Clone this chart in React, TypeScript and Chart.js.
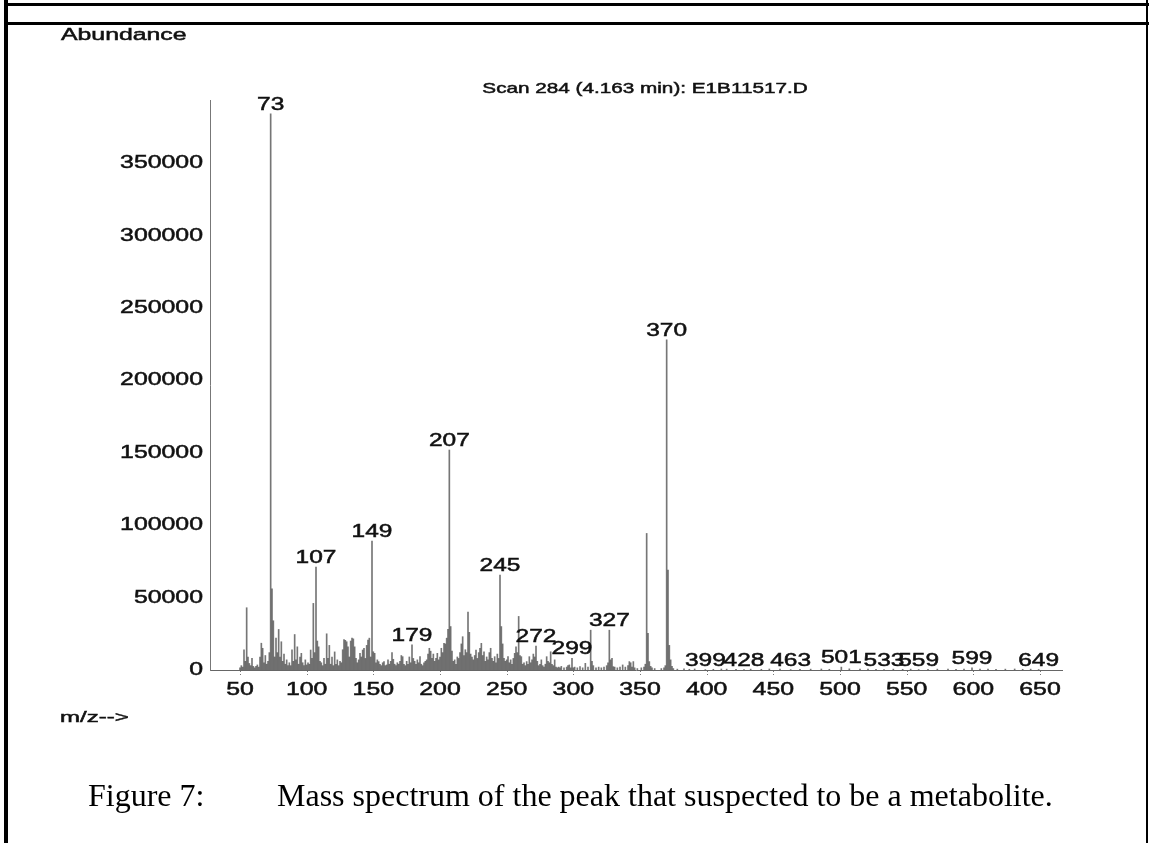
import React, { useEffect, useRef } from "react";
import { Chart, registerables } from "chart.js";

Chart.register(...registerables);

// ---- data ----
const MZ: number[] = [
  50, 51, 52, 53, 54, 55, 56, 57, 58, 59, 60, 61, 62, 63, 64, 65, 66, 67, 68, 69,
  70, 71, 72, 73, 74, 75, 76, 77, 78, 79, 80, 81, 82, 83, 84, 85, 86, 87, 88, 89,
  90, 91, 92, 93, 94, 95, 96, 97, 98, 99, 100, 101, 102, 103, 104, 105, 106, 107, 108, 109,
  110, 111, 112, 113, 114, 115, 116, 117, 118, 119, 120, 121, 122, 123, 124, 125, 126, 127, 128, 129,
  130, 131, 132, 133, 134, 135, 136, 137, 138, 139, 140, 141, 142, 143, 144, 145, 146, 147, 148, 149,
  150, 151, 152, 153, 154, 155, 156, 157, 158, 159, 160, 161, 162, 163, 164, 165, 166, 167, 168, 169,
  170, 171, 172, 173, 174, 175, 176, 177, 178, 179, 180, 181, 182, 183, 184, 185, 186, 187, 188, 189,
  190, 191, 192, 193, 194, 195, 196, 197, 198, 199, 200, 201, 202, 203, 204, 205, 206, 207, 208, 209,
  210, 211, 212, 213, 214, 215, 216, 217, 218, 219, 220, 221, 222, 223, 224, 225, 226, 227, 228, 229,
  230, 231, 232, 233, 234, 235, 236, 237, 238, 239, 240, 241, 242, 243, 244, 245, 246, 247, 248, 249,
  250, 251, 252, 253, 254, 255, 256, 257, 258, 259, 260, 261, 262, 263, 264, 265, 266, 267, 268, 269,
  270, 271, 272, 273, 274, 275, 276, 277, 278, 279, 280, 281, 282, 283, 284, 285, 286, 287, 288, 289,
  290, 291, 293, 295, 296, 297, 298, 299, 300, 301, 303, 305, 307, 309, 311, 313, 314, 315, 317, 319,
  321, 323, 325, 326, 327, 328, 329, 330, 331, 333, 335, 337, 339, 341, 342, 343, 344, 345, 346, 348,
  351, 353, 354, 355, 356, 357, 358, 359, 361, 366, 368, 369, 370, 371, 372, 373, 374, 375, 378, 383,
  387, 391, 399, 405, 411, 415, 422, 428, 433, 441, 447, 455, 463, 470, 478, 486, 492, 501, 507, 515,
  521, 527, 533, 540, 547, 553, 559, 566, 573, 581, 587, 593, 599, 605, 611, 617, 624, 631, 637, 643,
  649,
];

const ABUNDANCE: number[] = [
  1500, 3000, 2000, 14000, 6000, 43000, 9000, 4500, 3000, 8000, 2500, 1500, 2500, 3500, 2000, 9000, 18500, 15000, 5000, 10000,
  4000, 6000, 12000, 384000, 56000, 34000, 9000, 22000, 12000, 28000, 9000, 19500, 6000, 11000, 4000, 7000, 3000, 5000, 3000, 14000,
  6000, 24500, 7000, 16000, 4000, 9000, 11500, 5000, 3000, 7000, 3500, 5000, 4000, 13800, 8000, 46000, 12000, 71000, 20000, 16000,
  6000, 5000, 3000, 8000, 4000, 25000, 8000, 17000, 4000, 9000, 3000, 12500, 4000, 7000, 3000, 6000, 5000, 14000, 21000, 20500,
  19500, 16000, 9000, 20000, 22000, 21500, 16000, 8000, 5000, 7000, 11500, 9000, 13800, 15000, 8000, 17000, 20700, 22000, 9000, 89000,
  12600, 11500, 5000, 7000, 5800, 4000, 3000, 5000, 5800, 3000, 3500, 7000, 4000, 6000, 12000, 7400, 4000, 3000, 5000, 4000,
  6000, 10000, 9200, 4000, 3000, 6000, 4000, 9000, 5000, 17300, 8000, 6000, 4000, 7000, 5000, 9200, 4000, 3000, 5000, 6000,
  7000, 11000, 15000, 13000, 8000, 11000, 6000, 8000, 11500, 7000, 9000, 15000, 12000, 18400, 18000, 22000, 28000, 151900, 30000, 13000,
  6000, 7000, 4000, 9000, 8000, 12000, 18000, 23000, 10000, 14000, 12000, 40000, 26000, 11000, 9000, 7000, 10000, 13800, 8000, 12000,
  15000, 18400, 10000, 12600, 6000, 9000, 7000, 12000, 15000, 8000, 6000, 9200, 5000, 11000, 8000, 65600, 30000, 18000, 8000, 6000,
  7000, 9200, 5000, 7000, 4000, 8000, 11500, 16000, 12000, 37000, 10000, 9200, 4000, 5000, 3000, 5800, 4000, 9200, 5000, 7000,
  11000, 9000, 16500, 6000, 3000, 4000, 7000, 3000, 2000, 4000, 9200, 6000, 5000, 12600, 4000, 3000, 7000, 2000, 1500, 2000,
  1500, 2500, 1500, 2000, 3000, 3500, 1500, 8000, 1500, 2000, 1500, 2300, 1500, 4600, 2000, 27500, 6000, 3000, 1500, 2000,
  1500, 2000, 3000, 5000, 27500, 7000, 8000, 2300, 2000, 1500, 2000, 3500, 2000, 3000, 5800, 5000, 2000, 5800, 1500, 1000,
  1500, 2000, 4000, 94300, 25300, 5800, 2500, 1500, 1000, 1000, 1500, 3000, 228000, 69000, 17000, 7000, 2500, 1000, 600, 800,
  500, 700, 300, 500, 700, 600, 500, 300, 600, 500, 700, 600, 300, 500, 600, 700, 500, 2000, 800, 600,
  700, 500, 300, 600, 500, 600, 300, 500, 600, 700, 500, 600, 1500, 700, 600, 500, 600, 700, 500, 600,
  300,
];

const LABELED_MZ: number[] = [73, 107, 149, 179, 207, 245, 272, 299, 327, 370, 399, 428, 463, 501, 533, 559, 599, 649];
const X_TICKS: number[] = [50, 100, 150, 200, 250, 300, 350, 400, 450, 500, 550, 600, 650];
const Y_TICKS: number[] = [0, 50000, 100000, 150000, 200000, 250000, 300000, 350000];

const TITLE = "Scan 284 (4.163 min): E1B11517.D";
const Y_LABEL = "Abundance";
const X_LABEL = "m/z-->";
const CAPTION_NUM = "Figure 7:";
const CAPTION_TEXT = "Mass spectrum of the peak that suspected to be a metabolite.";

const X_MIN = 27.5;
const X_MAX = 666.5;
const Y_MAX = 393600;

const SANS = '"Liberation Sans", Arial, sans-serif';
const SERIF = '"Liberation Serif", "Times New Roman", serif';

function wideText(
  ctx: CanvasRenderingContext2D,
  text: string,
  x: number,
  y: number,
  font: string,
  sx: number,
  align: "left" | "center" | "right"
) {
  ctx.save();
  ctx.font = font;
  ctx.textBaseline = "middle";
  ctx.textAlign = "left";
  const w = ctx.measureText(text).width * sx;
  let left = x;
  if (align === "center") left = x - w / 2;
  else if (align === "right") left = x - w;
  ctx.translate(left, y);
  ctx.scale(sx, 1);
  ctx.fillStyle = "#111";
  ctx.strokeStyle = "#111";
  ctx.lineWidth = 0.5;
  ctx.fillText(text, 0, 0);
  ctx.strokeText(text, 0, 0);
  ctx.restore();
}

const decorPlugin = {
  id: "decor",
  beforeDraw(chart: any) {
    const ctx = chart.ctx as CanvasRenderingContext2D;
    ctx.save();
    ctx.fillStyle = "#fff";
    ctx.fillRect(0, 0, chart.width, chart.height);
    ctx.restore();
  },
  afterDraw(chart: any) {
    const ctx = chart.ctx as CanvasRenderingContext2D;
    const xs = chart.scales.x;
    const ys = chart.scales.y;
    const area = chart.chartArea;

    // frame
    ctx.save();
    ctx.fillStyle = "#000";
    ctx.fillRect(4, 0, 4, chart.height);
    ctx.fillRect(4, 3, chart.width - 4, 3);
    ctx.fillRect(8, 22, chart.width - 8, 3);
    ctx.fillRect(chart.width - 3, 0, 2, chart.height);
    ctx.restore();

    // x tick marks
    ctx.save();
    ctx.strokeStyle = "#777";
    ctx.lineWidth = 1;
    ctx.setLineDash([1, 2]);
    for (const t of xs.ticks) {
      const px = Math.round(xs.getPixelForValue(t.value)) + 0.5;
      ctx.beginPath();
      ctx.moveTo(px, area.bottom + 1);
      ctx.lineTo(px, area.bottom + 7);
      ctx.stroke();
    }
    ctx.restore();

    // tick labels
    const tickFont = `18px ${SANS}`;
    for (const t of ys.ticks) {
      wideText(ctx, String(t.value), area.left - 7, ys.getPixelForValue(t.value), tickFont, 1.38, "right");
    }
    for (const t of xs.ticks) {
      wideText(ctx, String(t.value), xs.getPixelForValue(t.value), area.bottom + 20, tickFont, 1.38, "center");
    }

    // peak labels
    const peakFont = `18px ${SANS}`;
    for (const m of LABELED_MZ) {
      const i = MZ.indexOf(m);
      if (i < 0) continue;
      const px = xs.getPixelForValue(m);
      const py = ys.getPixelForValue(ABUNDANCE[i]);
      wideText(ctx, String(m), px, py - 9, peakFont, 1.36, "center");
    }

    // titles
    wideText(ctx, Y_LABEL, 61, 36, `16px ${SANS}`, 1.55, "left");
    wideText(ctx, TITLE, 645, 89, `15px ${SANS}`, 1.38, "center");
    wideText(ctx, X_LABEL, 60, 718, `15px ${SANS}`, 1.6, "left");

    // caption
    ctx.save();
    ctx.fillStyle = "#000";
    ctx.font = `32px ${SERIF}`;
    ctx.textBaseline = "alphabetic";
    ctx.textAlign = "left";
    ctx.fillText(CAPTION_NUM, 88, 806);
    ctx.fillText(CAPTION_TEXT, 277, 806);
    ctx.restore();
  },
};

export default function App() {
  const canvasRef = useRef<HTMLCanvasElement | null>(null);

  useEffect(() => {
    const canvas = canvasRef.current;
    if (!canvas) return;
    const chart = new Chart(canvas, {
      type: "bar",
      data: {
        datasets: [
          {
            data: MZ.map((m, i) => ({ x: m, y: ABUNDANCE[i] })),
            backgroundColor: "rgba(60,60,60,0.7)",
            borderWidth: 0,
            barThickness: 1,
          },
        ],
      },
      options: {
        animation: false,
        responsive: false,
        devicePixelRatio: 1,
        layout: { padding: { left: 0, top: 100, right: 87, bottom: 133 } },
        plugins: {
          legend: { display: false },
          tooltip: { enabled: false },
          title: { display: false },
        },
        scales: {
          x: {
            type: "linear",
            min: X_MIN,
            max: X_MAX,
            offset: false,
            grid: { display: false },
            border: { display: true, color: "#666", width: 1, dash: [2, 1] },
            ticks: { display: false },
            afterBuildTicks: (s: any) => {
              s.ticks = X_TICKS.map((v) => ({ value: v }));
            },
            afterFit: (s: any) => {
              s.height = 40;
            },
          },
          y: {
            type: "linear",
            min: 0,
            max: Y_MAX,
            grid: { display: false },
            border: { display: true, color: "#777", width: 1, dash: [2, 2] },
            ticks: { display: false },
            afterBuildTicks: (s: any) => {
              s.ticks = Y_TICKS.map((v) => ({ value: v }));
            },
            afterFit: (s: any) => {
              s.width = 210;
            },
          },
        },
      },
      plugins: [decorPlugin],
    });
    return () => chart.destroy();
  }, []);

  return (
    <div style={{ position: "absolute", left: 0, top: 0, width: 1149, height: 843, background: "#fff" }}>
      <canvas ref={canvasRef} width={1149} height={843} style={{ display: "block", width: 1149, height: 843 }} />
    </div>
  );
}
